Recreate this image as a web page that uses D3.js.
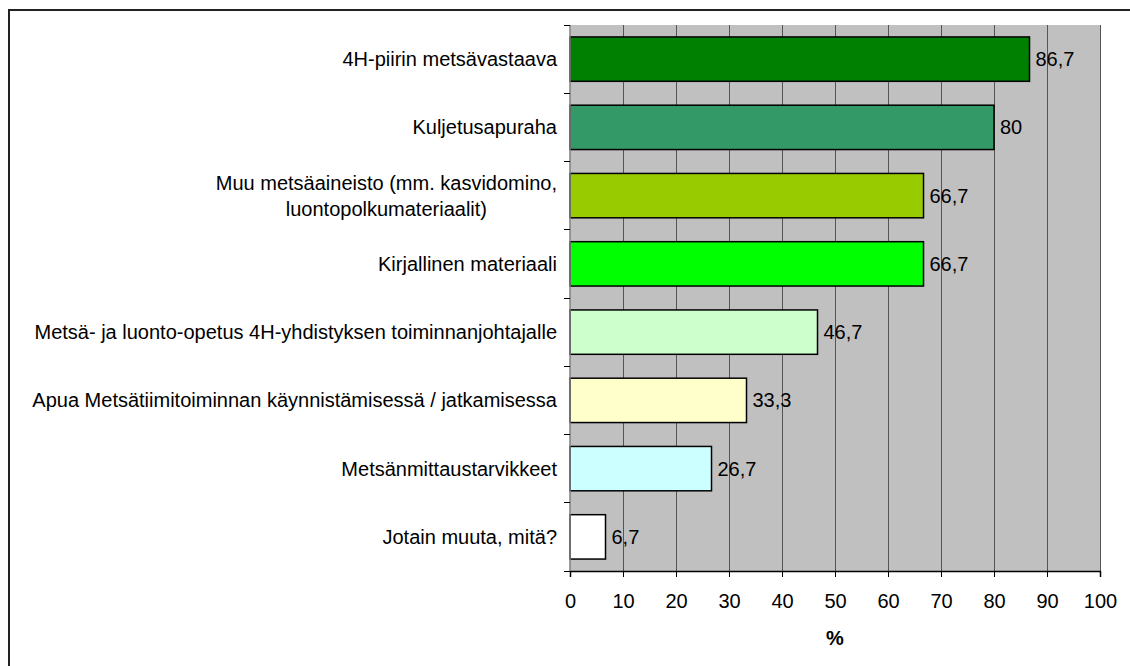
<!DOCTYPE html>
<html lang="fi">
<head>
<meta charset="UTF-8">
<title>Metsätoiminta - tuen tarve</title>
<script src="https://cdn.jsdelivr.net/npm/d3@7"></script>
<style>
  body { margin: 0; background: #fff; }
  svg text { font-family: "Liberation Sans", Arial, sans-serif; fill: #000; }
</style>
</head>
<body>
<script>
// data
const categories = [
  ["4H-piirin metsävastaava"],
  ["Kuljetusapuraha"],
  ["Muu metsäaineisto (mm. kasvidomino,", "luontopolkumateriaalit)"],
  ["Kirjallinen materiaali"],
  ["Metsä- ja luonto-opetus 4H-yhdistyksen toiminnanjohtajalle"],
  ["Apua Metsätiimitoiminnan käynnistämisessä / jatkamisessa"],
  ["Metsänmittaustarvikkeet"],
  ["Jotain muuta, mitä?"]
];
const values = [86.7, 80, 66.7, 66.7, 46.7, 33.3, 26.7, 6.7];
const barColors = ["#008000", "#339966", "#99CC00", "#00FF00", "#CCFFCC", "#FFFFCC", "#CCFFFF", "#FFFFFF"];
const xTicks = [0, 10, 20, 30, 40, 50, 60, 70, 80, 90, 100];
const xTitle = "%";

const W = 1130, H = 666;
const m = { left: 570, right: 30, top: 25, bottom: 95 };
const fs = 20;

const svg = d3.select("body").append("svg")
  .attr("width", W).attr("height", H);

// outer frame (only left/top are visible in the picture)
svg.append("path")
  .attr("d", `M9,${H + 2} V10 H${W + 2}`)
  .attr("fill", "none").attr("stroke", "#222").attr("stroke-width", 2);

const x = d3.scaleLinear().domain([0, 100]).range([m.left, W - m.right]);
const y = d3.scaleBand().domain(d3.range(categories.length))
  .range([m.top, H - m.bottom]).paddingInner(0.35).paddingOuter(0.175);

// plot area
svg.append("rect")
  .attr("x", x(0)).attr("y", m.top)
  .attr("width", x(100) - x(0)).attr("height", H - m.bottom - m.top)
  .attr("fill", "#C0C0C0");

// vertical grid
svg.append("g").selectAll("line").data(xTicks.slice(1)).join("line")
  .attr("x1", d => x(d)).attr("x2", d => x(d))
  .attr("y1", m.top).attr("y2", H - m.bottom)
  .attr("stroke", "#555").attr("stroke-width", 1).attr("shape-rendering", "crispEdges");

// bars
svg.append("g").selectAll("rect").data(values).join("rect")
  .attr("x", x(0))
  .attr("y", (d, i) => y(i))
  .attr("width", d => x(d) - x(0))
  .attr("height", y.bandwidth())
  .attr("fill", (d, i) => barColors[i])
  .attr("stroke", "#000").attr("stroke-width", 1.5);

// value labels
svg.append("g").selectAll("text").data(values).join("text")
  .attr("x", d => x(d) + 6)
  .attr("y", (d, i) => y(i) + y.bandwidth() / 2)
  .attr("dy", "0.35em")
  .style("font-size", fs + "px")
  .text(d => String(d).replace(".", ","));

// x axis
const xAxis = svg.append("g")
  .attr("transform", `translate(0,${H - m.bottom})`)
  .call(d3.axisBottom(x).tickValues(xTicks).tickSize(6).tickPadding(17).tickFormat(d3.format("d")));
xAxis.select(".domain").attr("stroke", "#000").attr("stroke-width", 1.5);
xAxis.selectAll(".tick line").attr("stroke", "#000");
xAxis.selectAll("text").style("font-size", fs + "px").attr("font-family", null);

// y axis line and ticks at band boundaries
const step = y.step();
const bounds = d3.range(categories.length + 1).map(i => m.top + i * step);
svg.append("line")
  .attr("x1", x(0)).attr("x2", x(0))
  .attr("y1", m.top).attr("y2", H - m.bottom)
  .attr("stroke", "#808080").attr("stroke-width", 1.5);
svg.append("g").selectAll("line").data(bounds).join("line")
  .attr("x1", x(0) - 6).attr("x2", x(0))
  .attr("y1", d => d).attr("y2", d => d)
  .attr("stroke", "#000").attr("shape-rendering", "crispEdges");

// category labels: block right aligned, lines centred within the block
const labelRight = x(0) - 13;
const lh = 26;
const catG = svg.append("g");
categories.forEach((lines, i) => {
  const g = catG.append("g");
  const cy = y(i) + y.bandwidth() / 2;
  const ts = lines.map((t, k) => g.append("text")
    .attr("x", labelRight)
    .attr("y", cy + (k - (lines.length - 1) / 2) * lh)
    .attr("dy", "0.35em")
    .attr("text-anchor", "end")
    .style("font-size", fs + "px")
    .text(t));
  const widths = ts.map(t => t.node().getComputedTextLength());
  const wMax = d3.max(widths);
  ts.forEach((t, k) => t.attr("x", labelRight - (wMax - widths[k]) / 2));
});

// x title
svg.append("text")
  .attr("x", (x(0) + x(100)) / 2).attr("y", 638)
  .attr("dy", "0.35em").attr("text-anchor", "middle")
  .style("font-size", fs + "px").style("font-weight", "bold")
  .text(xTitle);
</script>
</body>
</html>
